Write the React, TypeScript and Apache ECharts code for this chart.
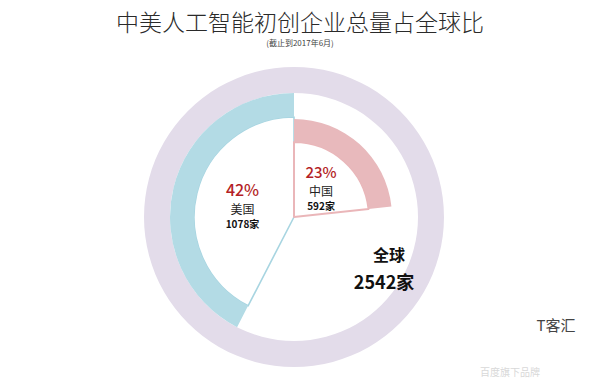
import React, { useEffect, useRef } from "react";
import * as echarts from "echarts";

const titleText = "中美人工智能初创企业总量占全球比";
const subtitleText = "(截止到2017年6月)";
const regionNames = ["美国", "中国"];
const regionCounts = [1078, 592];
const globalName = "全球";
const globalCount = 2542;
const unit = "家";

const FONT = "'Noto Sans CJK SC', 'Noto Sans', sans-serif";
const CENTER: [number, number] = [294, 217];

export default function App() {
  const ref = useRef<HTMLDivElement>(null);
  useEffect(() => {
    document.body.style.margin = "0";
    if (!ref.current) return;
    const chart = echarts.init(ref.current, undefined, { renderer: "svg" });
    const [usName, cnName] = regionNames;
    const [us, cn] = regionCounts;
    const pct = (v: number) => Math.round((v / globalCount) * 100) + "%";
    const rich = (big: number) => ({
      p: { fontFamily: FONT, fontSize: big, color: "#b41f26", fontWeight: 500, lineHeight: big + 6 },
      n: { fontFamily: FONT, fontSize: 12, color: "#222", lineHeight: 17 },
      v: { fontFamily: FONT, fontSize: 10, color: "#111", fontWeight: "bold", lineHeight: 14 },
    });
    const base = {
      type: "pie",
      center: CENTER,
      silent: true,
      animation: false,
      avoidLabelOverlap: false,
      labelLine: { show: false },
      emphasis: { disabled: true },
    };
    const hidden = { color: "rgba(0,0,0,0)", borderWidth: 0 };
    const txt = (x: number, y: number, text: string, fontSize: number, fill: string, fontWeight: any = "normal") => ({
      type: "text",
      x,
      y,
      z: 100,
      zlevel: 1,
      style: {
        text,
        align: "center",
        verticalAlign: "middle",
        fontFamily: FONT,
        fontSize,
        fontWeight,
        fill,
      },
    });
    chart.setOption({
      animation: false,
      backgroundColor: "#fff",
      title: [
        {
          text: titleText,
          left: "center",
          top: 4,
          textStyle: { fontFamily: FONT, fontSize: 23, fontWeight: 300, color: "#2a2a2a" },
        },
        {
          text: subtitleText,
          left: "center",
          top: 33,
          textStyle: { fontFamily: FONT, fontSize: 8, fontWeight: "normal", color: "#444" },
        },
      ],
      series: [
        {
          ...base,
          radius: [124, 150],
          label: { show: false },
          data: [{ value: globalCount, name: globalName, itemStyle: { color: "#e3dcea" } }],
        },
        {
          ...base,
          radius: [0, 100],
          startAngle: 90,
          clockwise: false,
          data: [
            {
              value: us,
              name: usName,
              itemStyle: { color: "#ffffff", borderColor: "#a8d5e1", borderWidth: 1.6 },
              label: {
                show: true,
                position: "inside",
                formatter: `{p|${pct(us)}}\n{n|${usName}}\n{v|${us}${unit}}`,
                rich: rich(16),
              },
            },
            { value: globalCount - us, name: "other", itemStyle: hidden, label: { show: false } },
          ],
        },
        {
          ...base,
          radius: [100, 124],
          startAngle: 90,
          clockwise: false,
          label: { show: false },
          data: [
            { value: us, name: usName, itemStyle: { color: "#b3dbe5" } },
            { value: globalCount - us, name: "other", itemStyle: hidden },
          ],
        },
        {
          ...base,
          radius: [0, 75],
          startAngle: 90,
          clockwise: true,
          data: [
            {
              value: cn,
              name: cnName,
              itemStyle: { color: "#ffffff", borderColor: "#eab6b9", borderWidth: 2 },
              label: {
                show: true,
                position: "inside",
                formatter: `{p|${pct(cn)}}\n{n|${cnName}}\n{v|${cn}${unit}}`,
                rich: rich(15),
              },
            },
            { value: globalCount - cn, name: "other", itemStyle: hidden, label: { show: false } },
          ],
        },
        {
          ...base,
          radius: [75, 98],
          startAngle: 90,
          clockwise: true,
          label: { show: false },
          data: [
            { value: cn, name: cnName, itemStyle: { color: "#e8b9bc" } },
            { value: globalCount - cn, name: "other", itemStyle: hidden },
          ],
        },
      ],
      graphic: [
        txt(389, 254, globalName, 16, "#111", "bold"),
        txt(384, 281, `${globalCount}${unit}`, 18, "#111", "bold"),
        txt(556, 324, "T客汇", 15, "#444"),
        txt(510, 371, "百度旗下品牌", 10, "#d8d8d8"),
      ],
    });
    return () => chart.dispose();
  }, []);
  return <div ref={ref} style={{ width: 600, height: 381 }} />;
}
